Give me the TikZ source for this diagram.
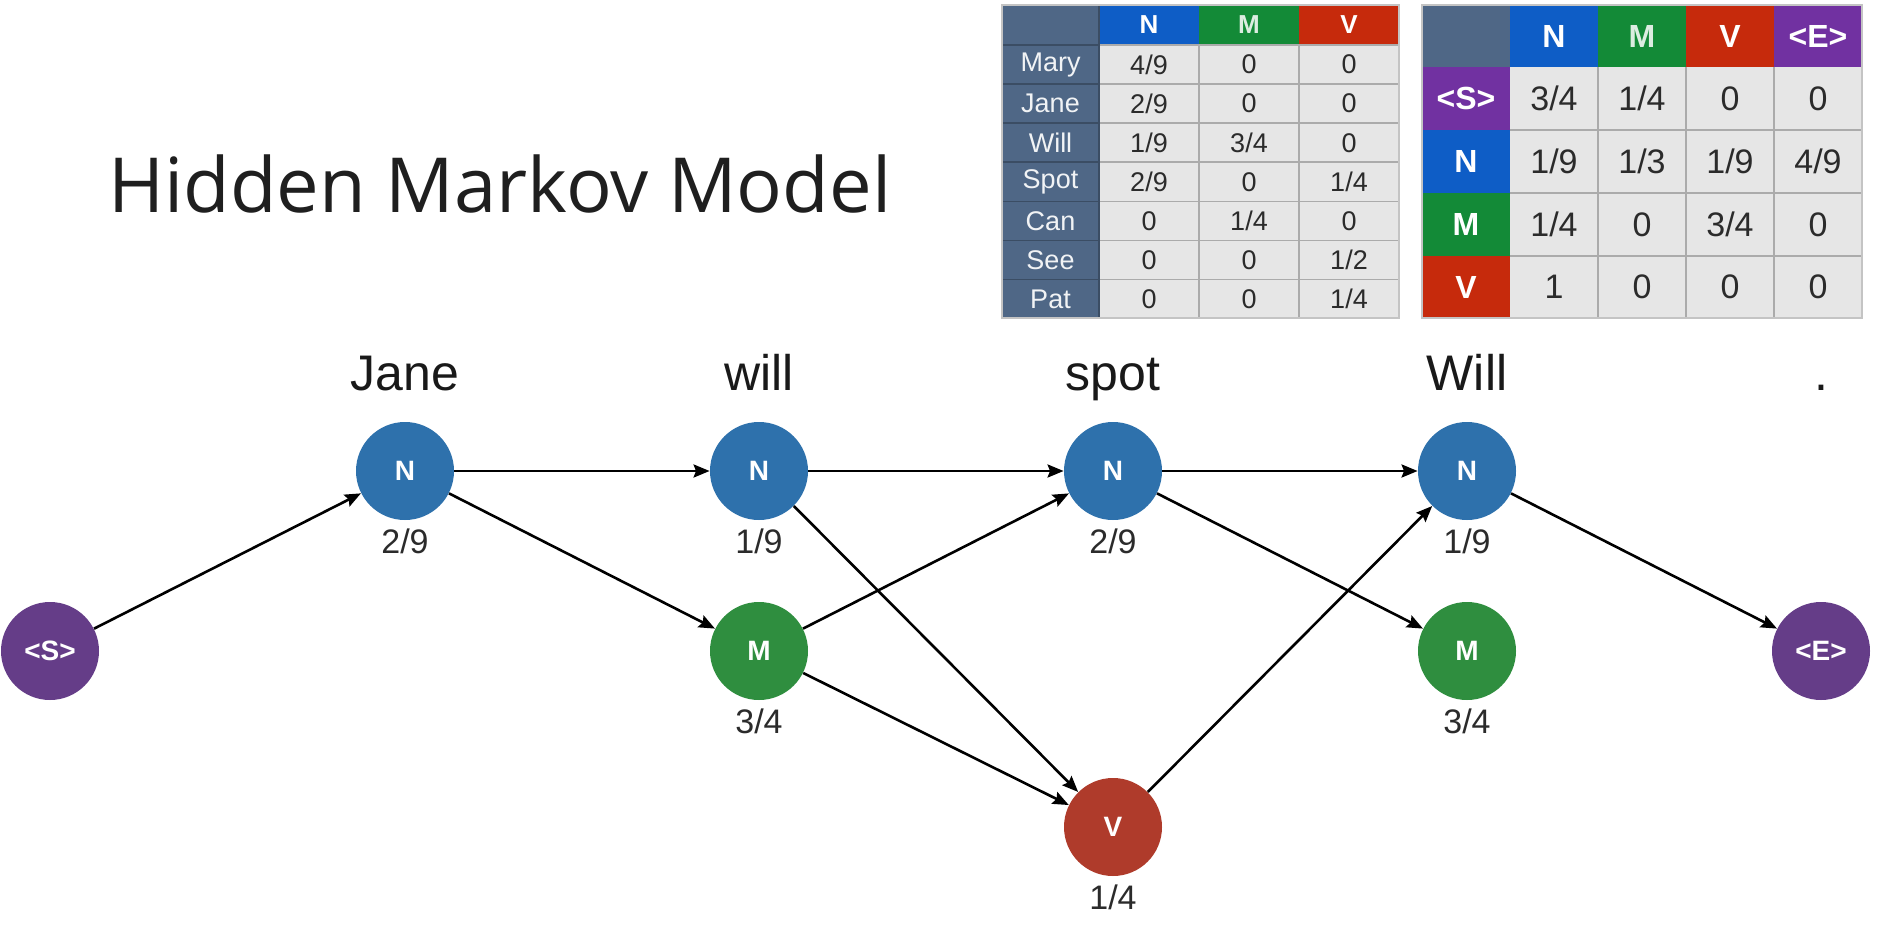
\documentclass[tikz,border=0pt]{standalone}
\usepackage{fontspec}
\setmainfont{Liberation Sans}
\newfontfamily\titlefont{Open Sans}
\usetikzlibrary{arrows.meta}
\definecolor{nblue}{HTML}{2E71AC}
\definecolor{mgreen}{HTML}{2F8E3F}
\definecolor{vred}{HTML}{AF3B2B}
\definecolor{spurple}{HTML}{653D88}
\definecolor{hblue}{HTML}{0E5DC6}
\definecolor{hgreen}{HTML}{138A37}
\definecolor{hred}{HTML}{C62A0C}
\definecolor{hpurple}{HTML}{7131A1}
\definecolor{slate}{HTML}{4F6786}
\definecolor{cellgray}{HTML}{E6E6E6}
\definecolor{gridgray}{HTML}{ABABAB}
\definecolor{txtgray}{HTML}{2B2B2B}
\newcommand\emrow[6]{%
  \node[rowlab] (#1) at (1050.5,#2) {#3};
  \node[emcell] (#1-n) at (1149,#2) {#4};
  \node[emcell] (#1-m) at (1249,#2) {#5};
  \node[emcell] (#1-v) at (1349,#2) {#6};
}
\newcommand\trrow[7]{%
  \node[trhead] (#1) at (1466,#2) {#3};
  \node[trcell] (#1-n) at (1554,#2) {#4};
  \node[trcell] (#1-m) at (1642,#2) {#5};
  \node[trcell] (#1-v) at (1730,#2) {#6};
  \node[trcell] (#1-e) at (1818,#2) {#7};
}
\begin{document}
\begin{tikzpicture}[x=0.5pt,y=-0.5pt,
  state/.style={circle, minimum size=49pt, inner sep=0pt, text=white,
    font=\fontsize{14}{14}\selectfont\bfseries},
  word/.style={anchor=base, inner sep=0pt, text=black!90,
    font=\fontsize{25}{25}\selectfont},
  prob/.style={anchor=base, inner sep=0pt, text=txtgray,
    font=\fontsize{17}{17}\selectfont},
  edge/.style={-{Stealth[length=8pt,width=6.5pt,inset=1.2pt]}, line width=1.3pt, black},
  rowlab/.style={inner sep=0pt, text=white!92!slate, font=\fontsize{13.5}{13.5}\selectfont},
  emcell/.style={inner sep=0pt, text=txtgray, font=\fontsize{13.5}{13.5}\selectfont},
  emhead/.style={inner sep=0pt, text=white, font=\fontsize{13}{13}\selectfont\bfseries},
  trhead/.style={inner sep=0pt, text=white, font=\fontsize{16}{16}\selectfont\bfseries},
  trcell/.style={inner sep=0pt, text=txtgray, font=\fontsize{17}{17}\selectfont},
]
\useasboundingbox[fill=white] (0,0) rectangle (1880,947);

% title
\node[anchor=base west, inner sep=0pt, text=black!88,
  font=\titlefont\fontsize{38}{38}\selectfont] (title) at (108,213) {Hidden Markov Model};

% ---------- emission table ----------
\fill[slate] (1002,5) rectangle (1099,318);
\fill[hblue] (1099,5) rectangle (1199,45);
\fill[hgreen] (1199,5) rectangle (1299,45);
\fill[hred] (1299,5) rectangle (1399,45);
\fill[cellgray] (1099,45) rectangle (1399,318);
\foreach \yy in {45,84.1,123.2,162.3,201.4,240.5,279.6} {
  \draw[line width=0.8pt, gridgray] (1099,\yy) -- (1399,\yy);
  \draw[line width=0.8pt, slate!75!black] (1002,\yy) -- (1099,\yy);
}
\foreach \xx in {1199,1299} \draw[line width=0.8pt, gridgray] (\xx,45) -- (\xx,318);
\draw[line width=0.8pt, slate!75!black] (1099,5) -- (1099,318);
\draw[line width=0.8pt, gridgray!70] (1002,5) rectangle (1399,318);
\node[emhead] (eh-n) at (1149,25) {N};
\node[emhead, text=white!85!hgreen] (eh-m) at (1249,25) {M};
\node[emhead] (eh-v) at (1349,25) {V};
\emrow{mary}{64.6}{Mary}{4/9}{0}{0}
\emrow{jane}{103.7}{Jane}{2/9}{0}{0}
\emrow{will}{142.8}{Will}{1/9}{3/4}{0}
\emrow{spot}{181.9}{Spot}{2/9}{0}{1/4}
\emrow{can}{221}{Can}{0}{1/4}{0}
\emrow{see}{260.1}{See}{0}{0}{1/2}
\emrow{pat}{299.2}{Pat}{0}{0}{1/4}

% ---------- transition table ----------
\fill[slate] (1422,5) rectangle (1510,67);
\fill[hblue] (1510,5) rectangle (1598,67);
\fill[hgreen] (1598,5) rectangle (1686,67);
\fill[hred] (1686,5) rectangle (1774,67);
\fill[hpurple] (1774,5) rectangle (1862,67);
\fill[hpurple] (1422,67) rectangle (1510,130);
\fill[hblue] (1422,130) rectangle (1510,193);
\fill[hgreen] (1422,193) rectangle (1510,256);
\fill[hred] (1422,256) rectangle (1510,318);
\fill[cellgray] (1510,67) rectangle (1862,318);
\foreach \yy in {130,193,256} \draw[line width=0.8pt, gridgray] (1510,\yy) -- (1862,\yy);
\foreach \xx in {1598,1686,1774} \draw[line width=0.8pt, gridgray] (\xx,67) -- (\xx,318);
\draw[line width=0.8pt, gridgray!70] (1422,5) rectangle (1862,318);
\node[trhead] (th-n) at (1554,36) {N};
\node[trhead, text=white!85!hgreen] (th-m) at (1642,36) {M};
\node[trhead] (th-v) at (1730,36) {V};
\node[trhead] (th-e) at (1818,36) {<E>};
\trrow{ts}{98.5}{<S>}{3/4}{1/4}{0}{0}
\trrow{tn}{161.5}{N}{1/9}{1/3}{1/9}{4/9}
\trrow{tm}{224.5}{M}{1/4}{0}{3/4}{0}
\trrow{tv}{287}{V}{1}{0}{0}{0}

% ---------- words ----------
\node[word] (w1) at (405,390) {Jane};
\node[word] (w2) at (759,390) {will};
\node[word] (w3) at (1113,390) {spot};
\node[word] (w4) at (1467,390) {Will};
\node[word] (w5) at (1821,390) {.};

% ---------- states ----------
\node[state, fill=spurple, font=\fontsize{14}{14}\selectfont\bfseries] (s) at (50,651) {<S>};
\node[state, fill=nblue] (n1) at (405,471) {N};
\node[state, fill=nblue] (n2) at (759,471) {N};
\node[state, fill=mgreen] (m2) at (759,651) {M};
\node[state, fill=nblue] (n3) at (1113,471) {N};
\node[state, fill=vred] (v3) at (1113,827) {V};
\node[state, fill=nblue] (n4) at (1467,471) {N};
\node[state, fill=mgreen] (m4) at (1467,651) {M};
\node[state, fill=spurple, font=\fontsize{14}{14}\selectfont\bfseries] (e) at (1821,651) {<E>};

% ---------- probabilities ----------
\node[prob] (p1) at (405,553) {2/9};
\node[prob] (p2) at (759,553) {1/9};
\node[prob] (p2m) at (759,733) {3/4};
\node[prob] (p3) at (1113,553) {2/9};
\node[prob] (p3v) at (1113,909) {1/4};
\node[prob] (p4) at (1467,553) {1/9};
\node[prob] (p4m) at (1467,733) {3/4};

% ---------- edges ----------
\draw[edge] (s) -- (n1);
\draw[edge] (n1) -- (n2);
\draw[edge] (n1) -- (m2);
\draw[edge] (n2) -- (n3);
\draw[edge] (n2) -- (v3);
\draw[edge] (m2) -- (n3);
\draw[edge] (m2) -- (v3);
\draw[edge] (n3) -- (n4);
\draw[edge] (n3) -- (m4);
\draw[edge] (v3) -- (n4);
\draw[edge] (n4) -- (e);
\end{tikzpicture}
\end{document}
